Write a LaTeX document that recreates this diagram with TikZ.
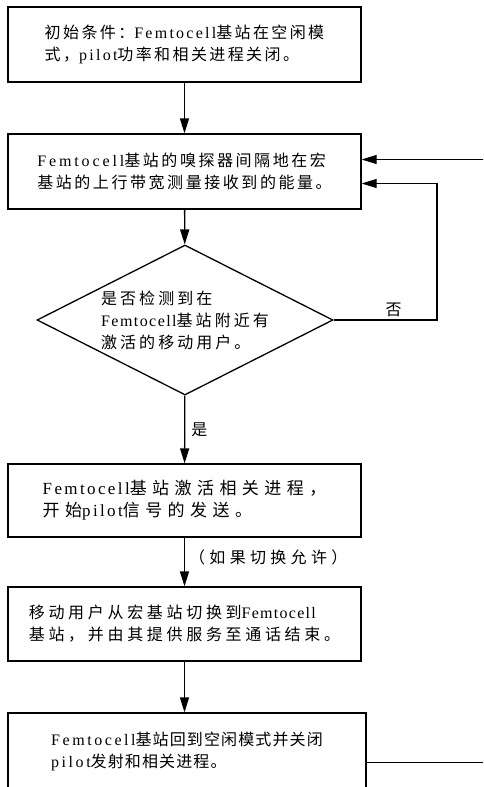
\documentclass[tikz,border=0pt]{standalone}
\usepackage{fontspec}
\setmainfont{Liberation Serif}
\newfontfamily\cjkfont{Noto Sans CJK SC}
\usetikzlibrary{arrows.meta,shapes.geometric,calc}
\newcommand\setsp[3]{\fontsize{#1}{22}\selectfont\def\zhls{#2}\addfontfeature{LetterSpace=#3}}
\def\zhls{0}
\newcommand\zh[1]{{\cjkfont\edef\zhtmp{\noexpand\addfontfeature{LetterSpace=\zhls}}\zhtmp #1}}
\tikzset{
  box/.style={draw, line width=1.3pt, rectangle, minimum width=353pt, align=left, inner sep=0pt},
  arr/.style={line width=1.3pt, -{Triangle[length=15pt,width=9pt]}},
}
\begin{document}
\begin{tikzpicture}[x=1pt,y=-1pt]
\useasboundingbox (0,0) rectangle (483,787);
\clip (0,0) rectangle (483,787);
\node[box, minimum height=75pt, font={\setsp{16}{15}{14}}] (b1) at (184.5,44.5)
  {\zh{初始条件：}Femtocell\zh{基站在空闲模}\\\zh{式，}pilot\zh{功率和相关进程关闭。}};
\node[box, minimum height=75pt, font={\setsp{16}{16}{18}}] (b2) at (184.5,171.5)
  {Femtocell\zh{基站的嗅探器间隔地在宏}\\\zh{基站的上行带宽测量接收到的能量。}};
\node[draw, line width=1.3pt, diamond, minimum width=296pt, minimum height=150pt, inner sep=0pt] (d) at (185,320) {};
\node[align=left, font={\setsp{16}{19}{9}}, inner sep=0pt] (dt) at (d.center)
  {\zh{是否检测到在}\\Femtocell\zh{基站附近有}\\\zh{激活的移动用户。}};
\node[box, minimum height=73pt, font={\setsp{17}{32}{14}}] (b3) at (184.5,500.5)
  {Femtocell\zh{基站激活相关进程，}\\\zh{开始}pilot\zh{信号的发送。}};
\node[box, minimum height=74pt, font={\setsp{16}{23}{8}}] (b4) at (184.5,624)
  {\zh{移动用户从宏基站切换到}Femtocell\\\zh{基站，并由其提供服务至通话结束。}};
\node[box, minimum width=358pt, minimum height=77pt, font={\setsp{16}{7}{16}}] (b5) at (187,751.5)
  {Femtocell\zh{基站回到空闲模式并关闭}\\pilot\zh{发射和相关进程。}};
\coordinate (nox) at (437,0);
\coordinate (loopx) at (500,0);
\coordinate (b5out) at ($(b5.north east)+(0,50)$);
\coordinate (b2in1) at ($(b2.east)+(0,-12)$);
\coordinate (b2in2) at ($(b2.east)+(0,12)$);
\draw[arr] (b1) -- (b2);
\draw[arr] (b2) -- (d);
\draw[arr] (d) -- node[right, font={\setsp{16}{0}{0}}, inner sep=6pt] {\zh{是}} (b3);
\draw[arr] (b3) -- node[right, font={\setsp{16}{27}{0}}, inner sep=4pt, yshift=5pt] {\zh{（如果切换允许）}} (b4);
\draw[arr] (b4.south) -- (b4.south |- b5.north);
\draw[arr] (d.east) -- node[above, pos=0.58, font={\setsp{16}{0}{0}}, inner sep=3pt] {\zh{否}} (d.east -| nox) |- (b2in2);
\draw[arr] (b5out) -- (b5out -| loopx) |- (b2in1);
\end{tikzpicture}
\end{document}
